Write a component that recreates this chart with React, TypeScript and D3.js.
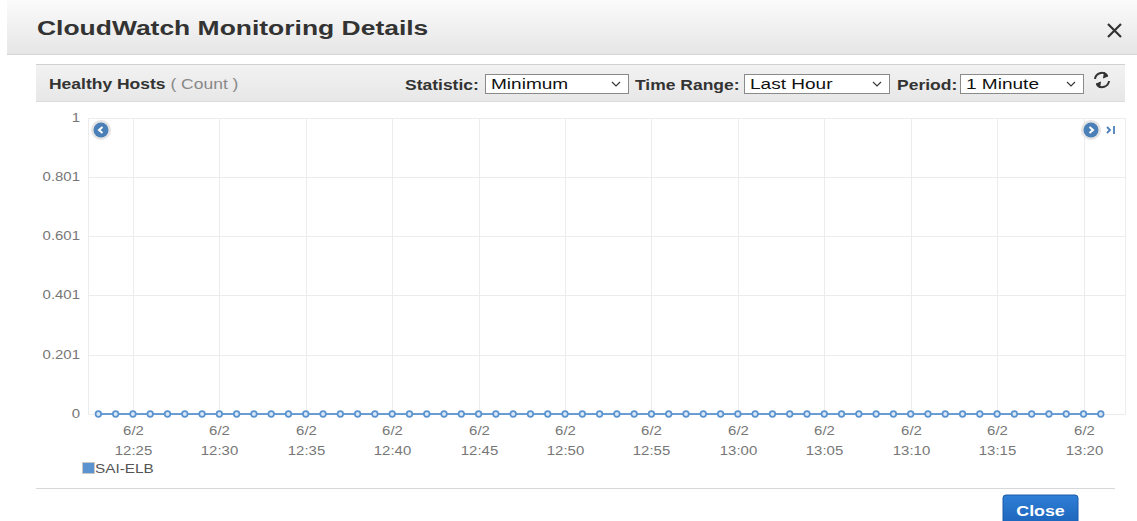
import React from "react";
import * as d3 from "d3";

const seriesName = "SAI-ELB";
const minutes = [
  "12:23","12:24","12:25","12:26","12:27","12:28","12:29","12:30","12:31","12:32",
  "12:33","12:34","12:35","12:36","12:37","12:38","12:39","12:40","12:41","12:42",
  "12:43","12:44","12:45","12:46","12:47","12:48","12:49","12:50","12:51","12:52",
  "12:53","12:54","12:55","12:56","12:57","12:58","12:59","13:00","13:01","13:02",
  "13:03","13:04","13:05","13:06","13:07","13:08","13:09","13:10","13:11","13:12",
  "13:13","13:14","13:15","13:16","13:17","13:18","13:19","13:20","13:21",
];
const values = [
  0,0,0,0,0,0,0,0,0,0,
  0,0,0,0,0,0,0,0,0,0,
  0,0,0,0,0,0,0,0,0,0,
  0,0,0,0,0,0,0,0,0,0,
  0,0,0,0,0,0,0,0,0,0,
  0,0,0,0,0,0,0,0,0,
];
const yTicks = [0, 0.201, 0.401, 0.601, 0.801, 1];
const xTickTimes = ["12:25","12:30","12:35","12:40","12:45","12:50","12:55","13:00","13:05","13:10","13:15","13:20"];
const xDateLabel = "6/2";
const domainStart = "12:22:24";
const domainEnd = "13:22:24";

const parse = (s: string) => {
  const p = s.split(":").map(Number);
  return new Date(2015, 5, 2, p[0], p[1], p[2] || 0);
};

const FONT = "'Liberation Sans', Arial, Helvetica, sans-serif";

function T({ x, y, sx = 1.25, size = 14, anchor = "start", weight = "normal", fill = "#333", children }: any) {
  return (
    <text transform={`translate(${x},${y}) scale(${sx},1)`} textAnchor={anchor} fontSize={size}
      fontWeight={weight} fontFamily={FONT} fill={fill}>{children}</text>
  );
}

function Select({ x, y, w, label }: { x: number; y: number; w: number; label: string }) {
  return (
    <g>
      <rect x={x + 0.5} y={y + 0.5} width={w} height={19} fill="#fff" stroke="#8a8a8a" />
      <T x={x + 6} y={y + 15} size={15} sx={1.27} fill="#111">{label}</T>
      <path d={`M${x + w - 16},${y + 8} l4,4 l4,-4`} fill="none" stroke="#333" strokeWidth={1.1} />
    </g>
  );
}

export default function App() {
  const W = 1137, H = 521;
  const plotL = 88, plotR = 1125, plotT = 118, plotB = 414;
  const x = d3.scaleTime().domain([parse(domainStart), parse(domainEnd)]).range([plotL, plotR]);
  const y = d3.scaleLinear().domain([0, 1]).range([plotB, plotT]);
  const data = minutes.map((m, i) => ({ t: parse(m), v: values[i] }));
  const line = d3.line<{ t: Date; v: number }>().x(d => x(d.t)).y(d => y(d.v));
  const blue = "#5a93cf";
  const axisSx = 1.15;

  return (
    <div style={{ position: "fixed", left: 0, top: 0, width: W, height: H, background: "#fff" }}>
      <svg width={W} height={H} style={{ display: "block" }}>
        <defs>
          <linearGradient id="hdr" x1="0" y1="0" x2="0" y2="1">
            <stop offset="0" stopColor="#fbfbfb" />
            <stop offset="1" stopColor="#e6e6e6" />
          </linearGradient>
          <linearGradient id="bar" x1="0" y1="0" x2="0" y2="1">
            <stop offset="0" stopColor="#f2f2f2" />
            <stop offset="1" stopColor="#e7e7e7" />
          </linearGradient>
          <linearGradient id="btn" x1="0" y1="0" x2="0" y2="1">
            <stop offset="0" stopColor="#2f7fd6" />
            <stop offset="1" stopColor="#1a62b8" />
          </linearGradient>
        </defs>
        {/* dialog header */}
        <rect x={7} y={0} width={W - 7} height={54} fill="url(#hdr)" />
        <line x1={7} x2={W} y1={54.5} y2={54.5} stroke="#d6d6d6" />
        <T x={37} y={35} size={21} sx={1.26} weight="bold" fill="#333">CloudWatch Monitoring Details</T>
        <path d="M1108,24 l13,13 M1121,24 l-13,13" stroke="#333" strokeWidth={2.2} />

        {/* panel bar */}
        <rect x={36} y={64} width={1089} height={38} fill="url(#bar)" />
        <line x1={36} x2={1125} y1={64.5} y2={64.5} stroke="#d0d0d0" />
        <line x1={36} x2={1125} y1={101.5} y2={101.5} stroke="#dcdcdc" />
        <T x={49} y={89}>
          <tspan fontWeight="bold">Healthy Hosts</tspan>
          <tspan fill="#888"> ( Count )</tspan>
        </T>
        <T x={405} y={90} weight="bold">Statistic:</T>
        <Select x={485} y={74} w={143} label="Minimum" />
        <T x={635} y={90} weight="bold">Time Range:</T>
        <Select x={744} y={74} w={145} label="Last Hour" />
        <T x={897} y={90} weight="bold">Period:</T>
        <Select x={960} y={74} w={123} label="1 Minute" />
        {/* refresh icon */}
        <g transform="translate(1102,80)" fill="none" stroke="#333" strokeWidth={2}>
          <path d="M-7,-1 A7,7 0 0 1 5,-5" />
          <path d="M7,1 A7,7 0 0 1 -5,5" />
          <path d="M2,-8 L6,-4 L1,-2" fill="#333" strokeWidth={1} />
          <path d="M-2,8 L-6,4 L-1,2" fill="#333" strokeWidth={1} />
        </g>

        {/* plot frame and grid */}
        <rect x={plotL + 0.5} y={plotT + 0.5} width={plotR - plotL} height={plotB - plotT} fill="none" stroke="#ececec" />
        {yTicks.map(t => (
          <g key={t}>
            <line x1={plotL} x2={plotR} y1={Math.round(y(t)) + 0.5} y2={Math.round(y(t)) + 0.5} stroke="#ececec" />
            <T x={80} y={y(t) + 4} anchor="end" size={13} sx={axisSx} fill="#777">{String(t)}</T>
          </g>
        ))}
        {xTickTimes.map(tt => {
          const px = Math.round(x(parse(tt))) + 0.5;
          return (
            <g key={tt}>
              <line x1={px} x2={px} y1={plotT} y2={plotB} stroke="#ececec" />
              <T x={px} y={435} anchor="middle" size={13} sx={axisSx} fill="#777">{xDateLabel}</T>
              <T x={px} y={455} anchor="middle" size={13} sx={axisSx} fill="#777">{tt}</T>
            </g>
          );
        })}

        {/* series */}
        <path d={line(data) || ""} fill="none" stroke={blue} strokeWidth={2} opacity={0.9} />
        {data.map((d, i) => (
          <circle key={i} cx={x(d.t)} cy={y(d.v)} r={2.8} fill="#dbe8f6" stroke={blue} strokeWidth={1.7} />
        ))}

        {/* nav buttons */}
        <g transform="translate(101,130)">
          <circle r={10} fill="#e4e4e4" />
          <circle r={7.5} fill="#4b7fb8" />
          <path d="M1.5,-3 L-2,0 L1.5,3" fill="none" stroke="#fff" strokeWidth={2} />
        </g>
        <g transform="translate(1091,130)">
          <circle r={10} fill="#e4e4e4" />
          <circle r={7.5} fill="#4b7fb8" />
          <path d="M-1.5,-3 L2,0 L-1.5,3" fill="none" stroke="#fff" strokeWidth={2} />
        </g>
        <g transform="translate(1107,130)" fill="none" stroke="#4b7fb8" strokeWidth={1.8}>
          <path d="M0,-3 L3,0 L0,3" />
          <path d="M7,-4 L7,4" />
        </g>

        {/* legend */}
        <rect x={82.5} y={462.5} width={12} height={11} fill={blue} stroke="#c8c8c8" />
        <T x={95} y={473} size={13} sx={1.18} fill="#555">{seriesName}</T>

        {/* footer */}
        <line x1={36} x2={1115} y1={488.5} y2={488.5} stroke="#d8d8d8" />
        <rect x={1003} y={495} width={75} height={32} rx={3} fill="url(#btn)" stroke="#1a5aa8" />
        <T x={1040.5} y={516} anchor="middle" weight="bold" sx={1.27} fill="#fff">Close</T>
      </svg>
    </div>
  );
}
